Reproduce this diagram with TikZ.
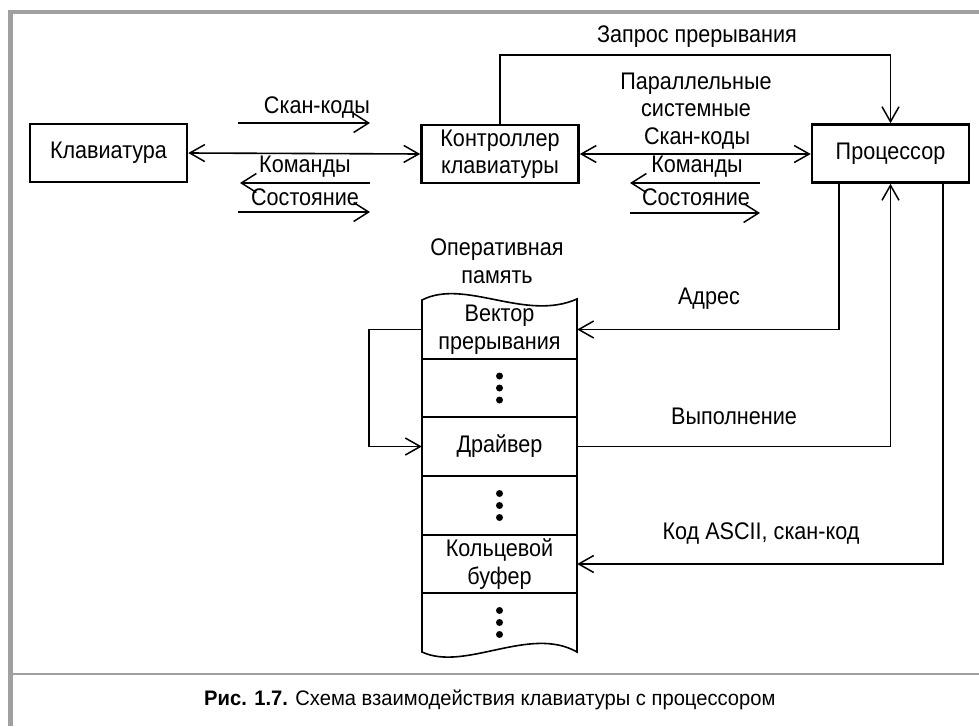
\documentclass[tikz,border=0pt]{standalone}
\usepackage{fontspec}
\setmainfont{Liberation Sans}[FakeStretch=0.9]
\newfontfamily\capfont{Liberation Sans}[FakeStretch=0.96]
\usetikzlibrary{arrows.meta}
\definecolor{framegray}{HTML}{A0A0A0}
\tikzset{
  barb/.tip={Straight Barb[length=15pt,width=17pt,line width=1.5pt]},
  sbarb/.tip={Straight Barb[length=15pt,width=19pt,line width=1.5pt]},
}
\begin{document}
\begin{tikzpicture}[x=1pt,y=-1pt,
  txt/.style={font=\fontsize{24}{27.5}\selectfont},
  box/.style={txt, draw, line width=2.6pt, minimum width=157pt, minimum height=58pt, inner sep=0pt, align=center},
  lbl/.style={txt, inner sep=0pt, align=center},
  cell/.style={txt, minimum width=155pt, minimum height=59pt, inner sep=0pt, align=center},
  conn/.style={line width=1.6pt},
  arr/.style={conn, -barb},
  darr/.style={conn, barb-barb},
  sarr/.style={conn, -sbarb},
  dot/.style={circle, fill=black, inner sep=0pt, minimum size=7pt},
]
\useasboundingbox (0,0) rectangle (979,726);
% frame
\draw[framegray, line width=4.5pt] (8,12) -- (979,12);
\draw[framegray, line width=5pt] (10.5,9.75) -- (10.5,726);
\draw[framegray, line width=2.6pt] (8,674) -- (979,674);

% main boxes
\node[box] (kb) at (108.5,153) {Клавиатура};
\node[box] (ctrl) at (500,154) {Контроллер\\клавиатуры};
\node[box] (cpu) at (890.5,153.5) {Процессор};

% memory column
\draw[line width=1.6pt] (422,652) -- (422,300)
  .. controls (465,278) and (525,322) .. (577,299)
  -- (577,652)
  .. controls (530,625) and (465,672) .. (422,652) -- cycle;
\foreach \yy in {359,417,476,535,593}
  \draw[line width=1.6pt] (422,\yy) -- (577,\yy);

\node[cell] (vec) at (499.5,329.5) {Вектор\\прерывания};
\node[cell] (dotsa) at (499.5,388) {};
\node[cell] (drv) at (499.5,446.5) {Драйвер};
\node[cell] (dotsb) at (499.5,505.5) {};
\node[cell] (ring) at (499.5,564) {Кольцевой\\буфер};
\node[cell] (dotsc) at (499.5,622.5) {};
\foreach \c in {dotsa,dotsb,dotsc}{
  \node[dot] at ([yshift=12pt]\c.center) {};
  \node[dot] at (\c.center) {};
  \node[dot] at ([yshift=-12pt]\c.center) {};
}
\node[lbl] (mem) at (497,261) {Оперативная\\память};

% connectors
\draw[darr] (kb.east) -- (ctrl.west);
\draw[darr] (ctrl.east) -- (ctrl.east -| cpu.west);
\draw[arr] (ctrl.north) |- (699,55) -| (cpu.north);
\draw[arr] ([xshift=-51.5pt]cpu.south) |- (vec.east);
\draw[arr] (drv.east) -| (cpu.south);
\draw[arr] ([xshift=52.5pt]cpu.south) |- (ring.east);
\draw[arr] (vec.west) -- ++(-53,0) |- (drv.west);

% labels
\node[lbl] (irq) at (697,37) {Запрос прерывания};
\node[lbl] (lscan) at (317,108) {Скан-коды};
\node[lbl] (lcmd) at (305,167) {Команды};
\node[lbl] (lstat) at (305,197) {Состояние};
\node[lbl] (rbus) at (696,95) {Параллельные\\системные};
\node[lbl] (rscan) at (697,139) {Скан-коды};
\node[lbl] (rcmd) at (697,167) {Команды};
\node[lbl] (rstat) at (696,197) {Состояние};
\node[lbl] (addr) at (709,299) {Адрес};
\node[lbl] (exec) at (734,416) {Выполнение};
\node[lbl] (ascii) at (761,534) {Код ASCII, скан-код};

% small direction arrows
\coordinate (a1s) at (238,123); \coordinate (a1e) at (370,123);
\coordinate (a2s) at (370,183); \coordinate (a2e) at (240,183);
\coordinate (a3s) at (238,212); \coordinate (a3e) at (370,212);
\coordinate (b2s) at (760,183); \coordinate (b2e) at (630,183);
\coordinate (b3s) at (630,213); \coordinate (b3e) at (760,213);
\draw[sarr] (a1s) -- (a1e);
\draw[sarr] (a2s) -- (a2e);
\draw[sarr] (a3s) -- (a3e);
\draw[sarr] (b2s) -- (b2e);
\draw[sarr] (b3s) -- (b3e);

% caption
\node[anchor=west, inner sep=0pt, font=\capfont\fontsize{21}{25}\selectfont] (cap) at (204,700)
  {\textbf{Рис. 1.7.} Схема взаимодействия клавиатуры с процессором};
\end{tikzpicture}
\end{document}
